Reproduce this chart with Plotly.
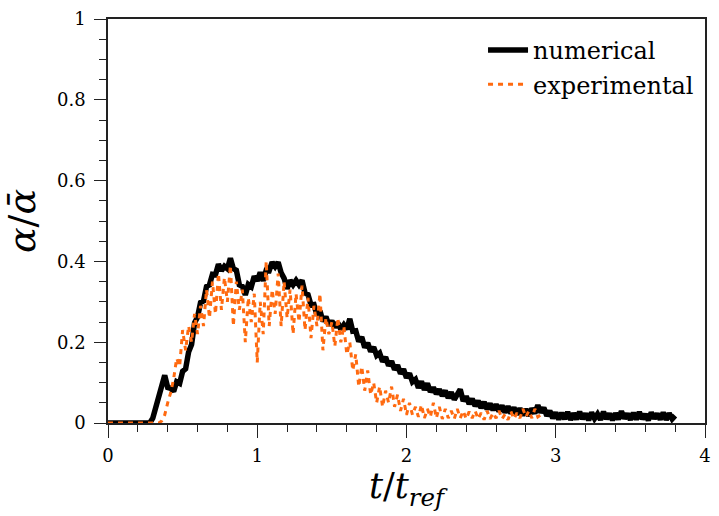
import plotly.graph_objects as go

# time grids (uniform sampling of t / t_ref)
t_numerical = [round(0.02 * i, 2) for i in range(191)]      # 0.00 .. 3.80
t_experimental = [round(0.02 * i, 2) for i in range(146)]   # 0.00 .. 2.90

numerical = [
    0, 0, 0, 0, 0, 0, 0, 0, 0, 0, 0, 0, 0, 0, 0,
    0.012, 0.038, 0.068, 0.085, 0.118, 0.088, 0.086, 0.078, 0.102, 0.098,
    0.128, 0.134, 0.176, 0.194, 0.248, 0.262, 0.298, 0.302, 0.338, 0.342,
    0.368, 0.367, 0.393, 0.377, 0.388, 0.382, 0.408, 0.382, 0.378, 0.342,
    0.338, 0.317, 0.343, 0.337, 0.363, 0.352, 0.373, 0.352, 0.378, 0.377,
    0.398, 0.387, 0.398, 0.372, 0.358, 0.332, 0.353, 0.342, 0.353, 0.342,
    0.353, 0.322, 0.318, 0.292, 0.293, 0.267, 0.278, 0.252, 0.263, 0.242,
    0.253, 0.237, 0.248, 0.232, 0.243, 0.232, 0.258, 0.227, 0.228, 0.202,
    0.213, 0.187, 0.198, 0.177, 0.188, 0.167, 0.173, 0.152, 0.163, 0.142,
    0.153, 0.132, 0.143, 0.122, 0.133, 0.112, 0.123, 0.102, 0.108, 0.087,
    0.103, 0.082, 0.098, 0.077, 0.088, 0.072, 0.083, 0.067, 0.080, 0.062,
    0.076, 0.058, 0.072, 0.083, 0.054, 0.066, 0.047, 0.060, 0.042, 0.055,
    0.037, 0.052, 0.034, 0.048, 0.032, 0.046, 0.029, 0.043, 0.026, 0.041,
    0.024, 0.038, 0.021, 0.036, 0.019, 0.034, 0.018, 0.036, 0.024, 0.044,
    0.026, 0.038, 0.018, 0.030, 0.012, 0.026, 0.009, 0.025, 0.010, 0.027,
    0.008, 0.024, 0.009, 0.028, 0.010, 0.023, 0.007, 0.026, 0.011, 0.022,
    0.008, 0.028, 0.010, 0.023, 0.007, 0.024, 0.009, 0.029, 0.011, 0.023,
    0.008, 0.025, 0.009, 0.027, 0.010, 0.022, 0.007, 0.026, 0.011, 0.023,
    0.009, 0.026, 0.008, 0.024, 0.010, 0.018,
]

experimental = [
    0, 0, 0, 0, 0, 0, 0, 0, 0, 0, 0, 0, 0, 0, 0, 0, 0, 0,
    0.005, 0.02, 0.05, 0.075, 0.11, 0.16, 0.14, 0.23, 0.18, 0.24,
    0.20, 0.27, 0.22, 0.29, 0.24, 0.33, 0.26, 0.35, 0.27, 0.37,
    0.28, 0.36, 0.30, 0.39, 0.24, 0.35, 0.28, 0.33, 0.20, 0.31,
    0.25, 0.32, 0.15, 0.30, 0.22, 0.40, 0.24, 0.33, 0.27, 0.37,
    0.24, 0.35, 0.26, 0.33, 0.22, 0.32, 0.25, 0.34, 0.23, 0.31,
    0.21, 0.29, 0.24, 0.32, 0.18, 0.26, 0.22, 0.25, 0.19, 0.26,
    0.20, 0.24, 0.17, 0.20, 0.13, 0.17, 0.09, 0.14, 0.08, 0.13,
    0.07, 0.10, 0.05, 0.09, 0.04, 0.08, 0.05, 0.09, 0.04, 0.07,
    0.03, 0.06, 0.02, 0.05, 0.02, 0.04, 0.015, 0.045, 0.012, 0.035,
    0.015, 0.05, 0.012, 0.04, 0.01, 0.035, 0.012, 0.03, 0.01, 0.035,
    0.012, 0.03, 0.01, 0.028, 0.012, 0.03, 0.01, 0.025, 0.008, 0.03,
    0.01, 0.025, 0.012, 0.03, 0.01, 0.022, 0.008, 0.028, 0.01, 0.025,
    0.012, 0.035, 0.015, 0.03, 0.012, 0.035, 0.015, 0.02,
]

x_ticks = [0, 1, 2, 3, 4]
y_ticks = [0, 0.2, 0.4, 0.6, 0.8, 1]
y_tick_labels = ["0", "0.2", "0.4", "0.6", "0.8", "1"]

FONT = "DejaVu Serif"
ORANGE = "#ff6a10"

fig = go.Figure()
fig.add_trace(go.Scatter(
    x=t_numerical, y=numerical, mode="lines", name="numerical",
    line=dict(color="black", width=5.5),
))
fig.add_trace(go.Scatter(
    x=t_experimental, y=experimental, mode="lines", name="experimental",
    line=dict(color=ORANGE, width=3, dash="5px,5px"),
))

axis_common = dict(
    showline=True, linecolor="#222", linewidth=1.5, mirror=True,
    ticks="outside", tickcolor="#222", tickwidth=1.3,
    showgrid=False, zeroline=False,
    tickfont=dict(family=FONT, size=18, color="black"),
)

fig.update_xaxes(
    range=[0, 4], tickvals=x_ticks, ticklen=13,
    minor=dict(dtick=0.2, ticks="outside", ticklen=7, tickcolor="#222", tickwidth=1.2),
    ticklabelstandoff=3,
    title=dict(text="<i>t</i>/<i>t</i><sub><i>ref</i></sub>",
               font=dict(family=FONT, size=35, color="black"), standoff=2),
    **axis_common,
)
fig.update_yaxes(
    range=[0, 1], tickvals=y_ticks, ticktext=y_tick_labels, ticklen=12,
    minor=dict(dtick=0.05, ticks="outside", ticklen=7, tickcolor="#222", tickwidth=1.2),
    ticklabelstandoff=5,
    title=dict(text="<i>α</i>/<i>ᾱ</i>",
               font=dict(family=FONT, size=38, color="black"), standoff=10),
    **axis_common,
)

fig.update_layout(
    width=719, height=516,
    margin=dict(l=108, r=8, t=19, b=93),
    paper_bgcolor="white", plot_bgcolor="white",
    font=dict(family=FONT, color="black"),
    legend=dict(
        x=0.99, y=0.978, xanchor="right", yanchor="top",
        bgcolor="rgba(0,0,0,0)", borderwidth=0,
        font=dict(family=FONT, size=24, color="black"),
        tracegroupgap=0, itemwidth=40,
    ),
    showlegend=True,
)

fig.write_html("out.html")
